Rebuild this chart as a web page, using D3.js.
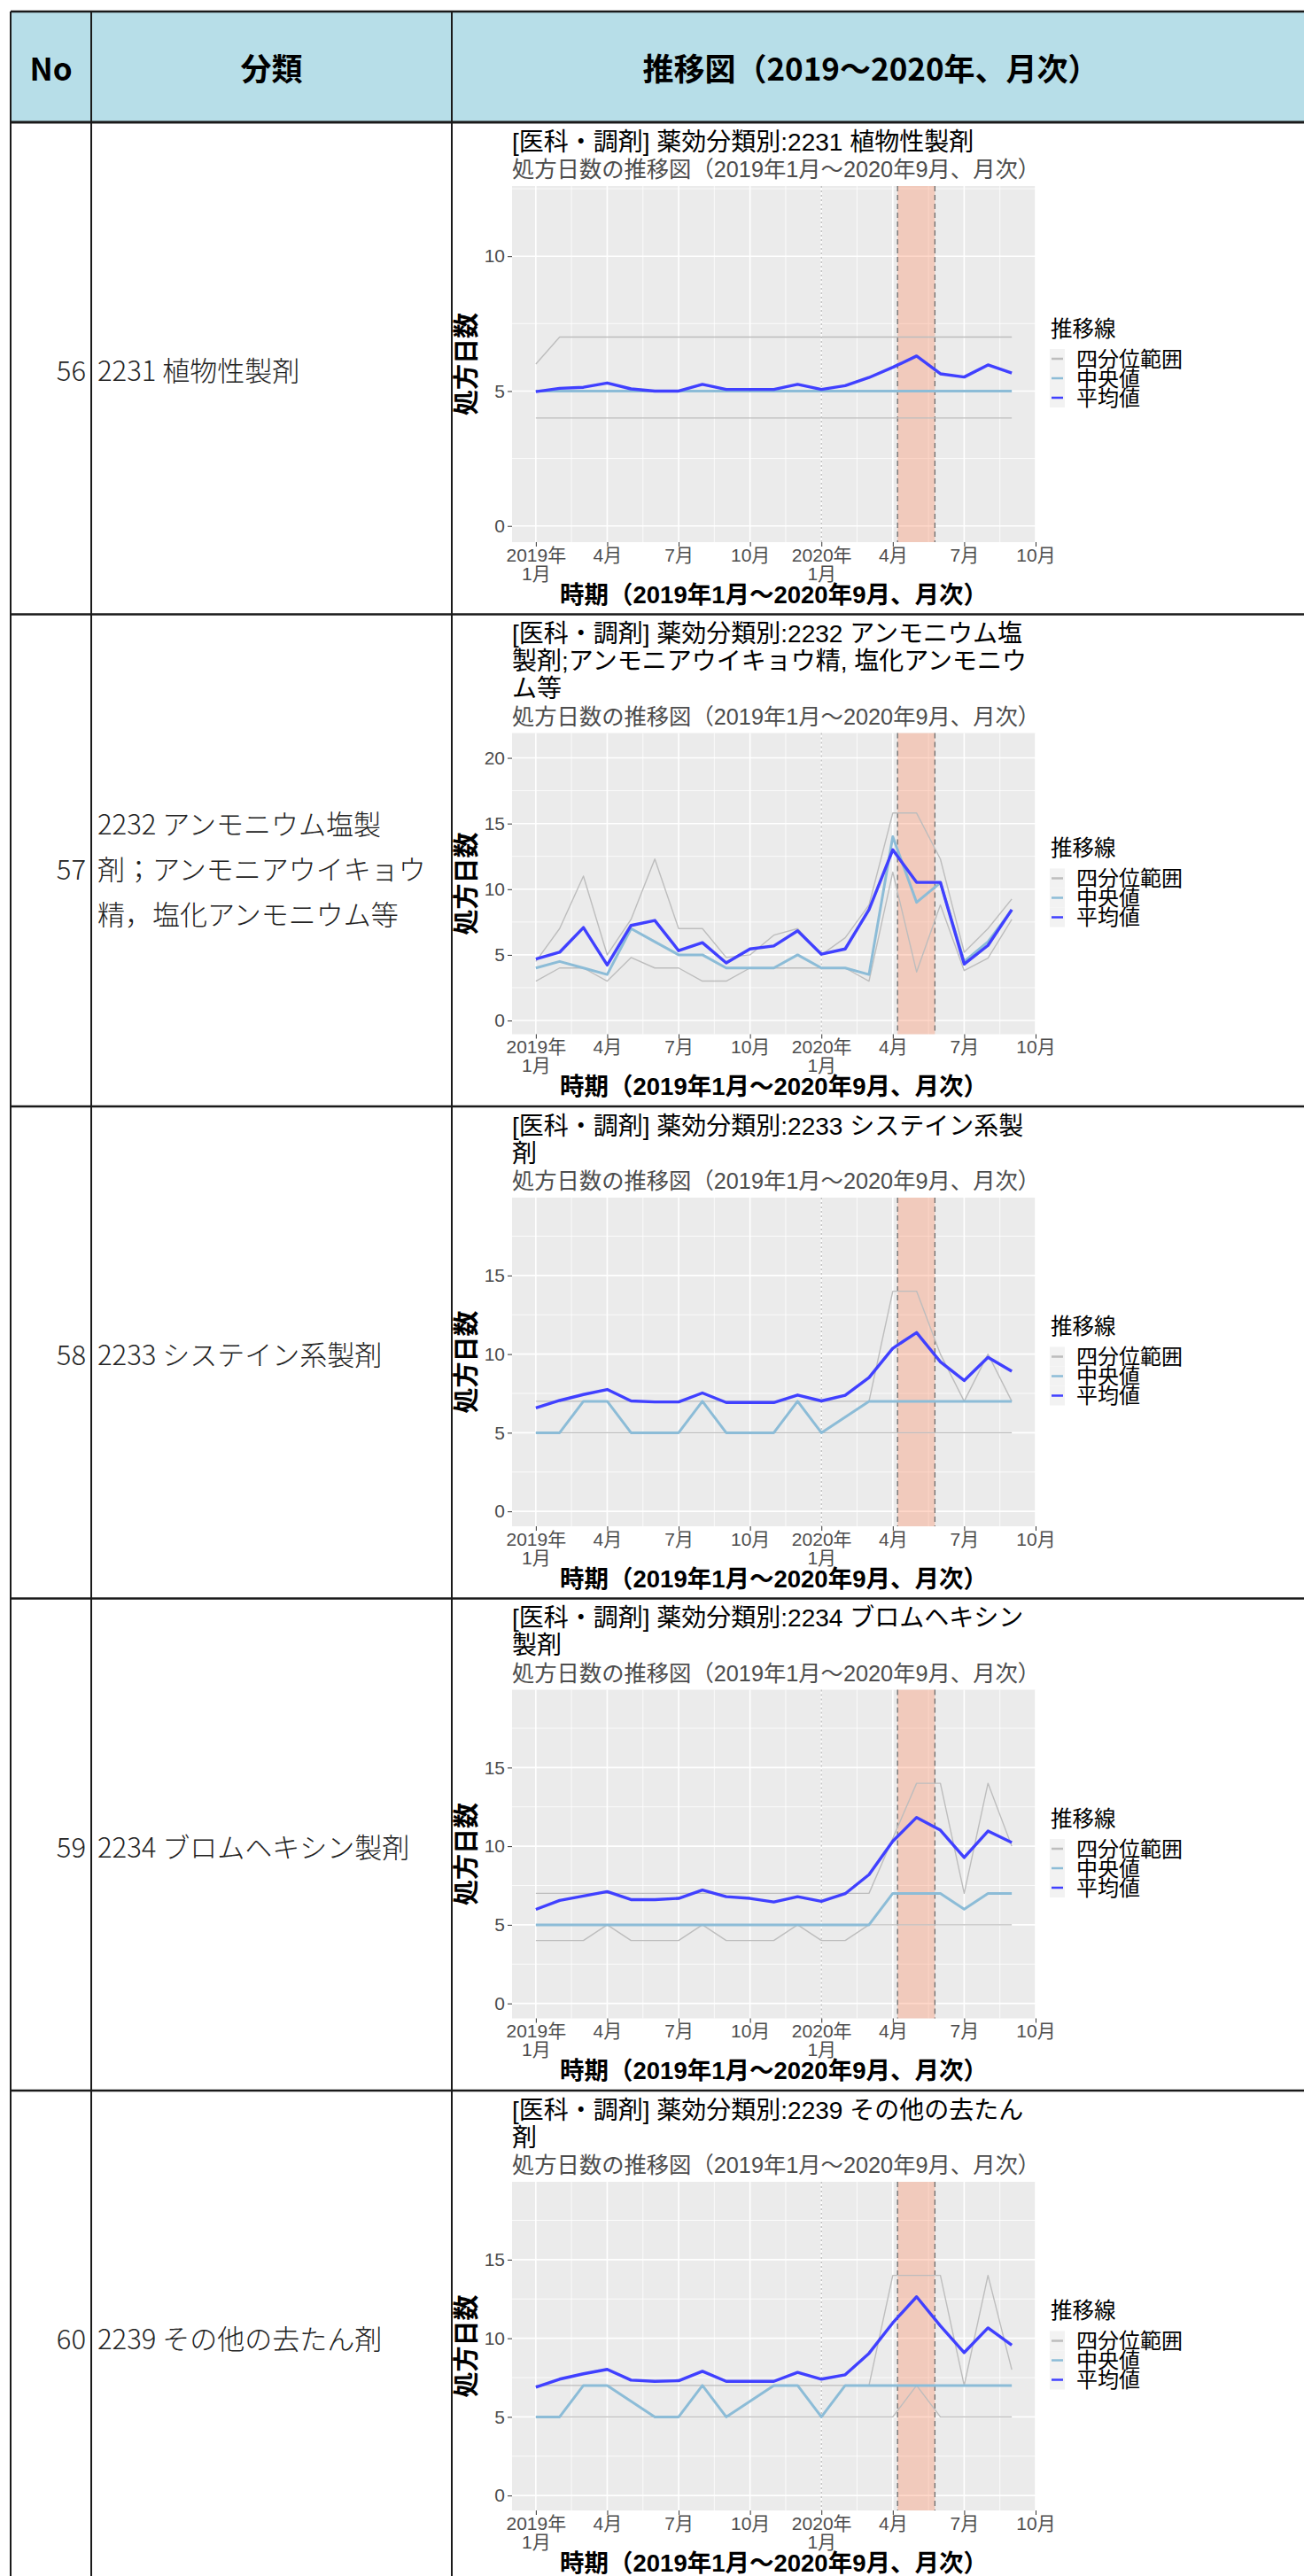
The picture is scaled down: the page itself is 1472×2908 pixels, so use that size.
<!DOCTYPE html>
<html><head><meta charset="utf-8">
<script src="https://cdn.jsdelivr.net/npm/d3@7"></script>
<style>body{margin:0;background:#fff}svg{display:block}</style>
</head><body>
<svg id="c" width="1472" height="2908"></svg>
<script>
// ---------- DATA ----------
const headerLabels = ["No", "分類", "推移図（2019～2020年、月次）"];
const rowNos = [56, 57, 58, 59, 60];
const categoryLines = [
  ["2231 植物性製剤"],
  ["2232 アンモニウム塩製", "剤；アンモニアウイキョウ", "精，塩化アンモニウム等"],
  ["2233 システイン系製剤"],
  ["2234 ブロムヘキシン製剤"],
  ["2239 その他の去たん剤"]
];
const chartTitles = [
  ["[医科・調剤] 薬効分類別:2231 植物性製剤"],
  ["[医科・調剤] 薬効分類別:2232 アンモニウム塩", "製剤;アンモニアウイキョウ精, 塩化アンモニウ", "ム等"],
  ["[医科・調剤] 薬効分類別:2233 システイン系製", "剤"],
  ["[医科・調剤] 薬効分類別:2234 ブロムヘキシン", "製剤"],
  ["[医科・調剤] 薬効分類別:2239 その他の去たん", "剤"]
];
const subtitle = "処方日数の推移図（2019年1月～2020年9月、月次）";
const xTitle = "時期（2019年1月～2020年9月、月次）";
const yTitle = "処方日数";
const legendTitle = "推移線";
const legendLabels = ["四分位範囲", "中央値", "平均値"];
// months: index 0 = 2019年1月 ... 20 = 2020年9月
const monthIndex = d3.range(21);
const xTickMonths = [0, 3, 6, 9, 12, 15, 18, 21];
const xTickLabels = [["2019年", "1月"], ["4月"], ["7月"], ["10月"], ["2020年", "1月"], ["4月"], ["7月"], ["10月"]];
const emergencyStart = 15.2;   // 2020-04-07
const emergencyEnd = 16.77;    // 2020-05-25
const yMaxes = [12, 20.85, 19, 19, 19];

const mean2231   = [4.98,5.1,5.14,5.3,5.08,5.0,5.0,5.25,5.06,5.06,5.06,5.25,5.06,5.2,5.5,5.88,6.3,5.64,5.52,5.97,5.67];
const median2231 = [5,5,5,5,5,5,5,5,5,5,5,5,5,5,5,5,5,5,5,5,5];
const q1_2231    = [4,4,4,4,4,4,4,4,4,4,4,4,4,4,4,4,4,4,4,4,4];
const q3_2231    = [6,7,7,7,7,7,7,7,7,7,7,7,7,7,7,7,7,7,7,7,7];

const mean2232   = [4.68,5.2,7.08,4.23,7.24,7.62,5.32,5.93,4.39,5.45,5.68,6.83,5.05,5.45,8.44,13.0,10.52,10.52,4.3,5.72,8.44];
const median2232 = [4.0,4.5,4.0,3.5,7.0,6.0,5.0,5.0,4.0,4.0,4.0,5.0,4.0,4.0,3.5,14.0,9.0,10.5,4.5,6.0,8.4];
const q1_2232    = [3.0,4.0,4.0,3.0,4.8,4.0,4.0,3.0,3.0,4.0,4.0,4.0,4.0,4.0,3.0,11.3,3.7,8.8,3.8,4.75,7.7];
const q3_2232    = [4.5,7.0,11.0,5.0,7.7,12.3,7.0,7.0,4.8,5.0,6.5,7.0,5.0,6.3,8.8,15.8,15.8,12.3,5.2,7.0,9.25];

const mean2233   = [6.58,7.05,7.43,7.75,7.02,6.96,6.96,7.53,6.92,6.92,6.92,7.4,7.02,7.38,8.51,10.37,11.37,9.51,8.32,9.8,8.91];
const median2233 = [5,5,7,7,5,5,5,7,5,5,5,7,5,6,7,7,7,7,7,7,7];
const q1_2233    = [5,5,5,5,5,5,5,5,5,5,5,5,5,5,5,5,5,5,5,5,5];
const q3_2233    = [7,7,7,7,7,7,7,7,7,7,7,7,7,7,7,14,14,10,7,10,7];

const mean2234   = [5.98,6.55,6.83,7.11,6.6,6.6,6.68,7.21,6.79,6.68,6.45,6.79,6.49,6.98,8.19,10.32,11.83,11.02,9.28,10.96,10.23];
const median2234 = [5,5,5,5,5,5,5,5,5,5,5,5,5,5,5,7,7,7,6,7,7];
const q1_2234    = [4,4,4,5,4,4,4,5,4,4,4,5,4,4,5,5,5,5,5,5,5];
const q3_2234    = [7,7,7,7,7,7,7,7,7,7,7,7,7,7,7,10.5,14,14,7,14,10];

const mean2239   = [6.89,7.4,7.74,8.02,7.34,7.26,7.3,7.9,7.26,7.26,7.26,7.83,7.4,7.68,9.04,10.98,12.64,10.79,9.09,10.66,9.57];
const median2239 = [5,5,7,7,6,5,5,7,5,6,7,7,5,7,7,7,7,7,7,7,7];
const q1_2239    = [5,5,5,5,5,5,5,5,5,5,5,5,5,5,5,5,7,5,5,5,5];
const q3_2239    = [7,7,7,7,7,7,7,7,7,7,7,7,7,7,7,14,14,14,7,14,8];

const chartSeries = [
  {mean: mean2231, median: median2231, q1: q1_2231, q3: q3_2231},
  {mean: mean2232, median: median2232, q1: q1_2232, q3: q3_2232},
  {mean: mean2233, median: median2233, q1: q1_2233, q3: q3_2233},
  {mean: mean2234, median: median2234, q1: q1_2234, q3: q3_2234},
  {mean: mean2239, median: median2239, q1: q1_2239, q3: q3_2239}
];

// ---------- STYLE / LAYOUT ----------
const TABLE_FONT = "'Noto Sans CJK JP','Noto Sans',sans-serif";
const CHART_FONT = "'Liberation Sans','Noto Sans CJK JP',sans-serif";
const COL_MEAN = "#4040ff", COL_MED = "#8cbcd7", COL_Q = "#bdbdbd";
const tableLeft = 12, col1 = 103, col2 = 510, tableRight = 1472;
const tableTop = 13, headerBottom = 138, rowH = 555.5;
const rowTop = i => headerBottom + i * rowH;

const svg = d3.select("#c");
svg.append("rect").attr("width", 1472).attr("height", 2908).attr("fill", "#fff");

// header
svg.append("rect").attr("x", tableLeft).attr("y", tableTop).attr("width", tableRight - tableLeft)
  .attr("height", headerBottom - tableTop).attr("fill", "#b7dee8");
const headerCenters = [(tableLeft + col1) / 2, (col1 + col2) / 2, 983];
headerLabels.forEach((t, i) => {
  svg.append("text").attr("x", headerCenters[i]).attr("y", (tableTop + headerBottom) / 2)
    .attr("text-anchor", "middle").attr("dominant-baseline", "central")
    .attr("font-family", TABLE_FONT).attr("font-weight", 700).attr("font-size", 35)
    .attr("fill", "#000").text(t);
});

// rows (left columns)
rowNos.forEach((no, i) => {
  const cy = rowTop(i) + rowH / 2 + 1;
  const lines = categoryLines[i];
  const lh = 51;
  const off = lines.length > 1 ? 7 : 0;
  svg.append("text").attr("x", 97).attr("y", cy + off).attr("text-anchor", "end")
    .attr("dominant-baseline", "central").attr("font-family", TABLE_FONT)
    .attr("font-weight", 300).attr("font-size", 31).attr("fill", "#222").text(no);
  lines.forEach((l, k) => {
    svg.append("text").attr("x", 110).attr("y", cy + off + (k - (lines.length - 1) / 2) * lh)
      .attr("dominant-baseline", "central").attr("font-family", TABLE_FONT)
      .attr("font-weight", 300).attr("font-size", 31).attr("fill", "#222").text(l);
  });
});

// table borders
const bcol = "#1a1a1a";
const hl = (y, w) => svg.append("line").attr("x1", tableLeft).attr("x2", tableRight).attr("y1", y).attr("y2", y).attr("stroke", bcol).attr("stroke-width", w);
hl(tableTop, 2.5);
hl(headerBottom, 3);
for (let i = 1; i <= 5; i++) hl(rowTop(i), 2.5);
[tableLeft, col1, col2].forEach(x => svg.append("line").attr("x1", x).attr("x2", x)
  .attr("y1", tableTop).attr("y2", 2908).attr("stroke", bcol).attr("stroke-width", 2));

// ---------- CHARTS ----------
const pLeft = 578, pRight = 1169;
chartSeries.forEach((s, i) => {
  const top = rowTop(i);
  const titles = chartTitles[i];
  const g = svg.append("g");
  const titleC = top + 22;
  titles.forEach((t, k) => {
    g.append("text").attr("x", pLeft).attr("y", titleC + k * 31).attr("dominant-baseline", "central")
      .attr("font-family", CHART_FONT).attr("font-size", 28).attr("fill", "#000").text(t);
  });
  const subC = titleC + 31 * titles.length;
  g.append("text").attr("x", pLeft).attr("y", subC).attr("dominant-baseline", "central")
    .attr("font-family", CHART_FONT).attr("font-size", 25.3).attr("fill", "#4d4d4d").text(subtitle);
  const pTop = subC + 19, pBottom = top + 474;
  const M = yMaxes[i];
  const x = d3.scaleLinear().domain([-1, 21]).range([pLeft, pRight]);
  const y = d3.scaleLinear().domain([-0.05 * M, 1.05 * M]).range([pBottom, pTop]);
  const [y0, y1] = y.domain();

  g.append("rect").attr("x", pLeft).attr("y", pTop).attr("width", pRight - pLeft)
    .attr("height", pBottom - pTop).attr("fill", "#ebebeb");
  // minor grid
  const yMinor = d3.range(2.5, y1, 5).filter(v => v > y0);
  const xMinor = d3.range(-1.5, 21, 3).filter(v => v > -1 && v < 21);
  yMinor.forEach(v => g.append("line").attr("x1", pLeft).attr("x2", pRight).attr("y1", y(v)).attr("y2", y(v))
    .attr("stroke", "#fff").attr("stroke-width", 0.8));
  xMinor.forEach(v => g.append("line").attr("x1", x(v)).attr("x2", x(v)).attr("y1", pTop).attr("y2", pBottom)
    .attr("stroke", "#fff").attr("stroke-width", 0.8));
  // major grid
  const yTicks = d3.range(0, y1, 5);
  yTicks.forEach(v => g.append("line").attr("x1", pLeft).attr("x2", pRight).attr("y1", y(v)).attr("y2", y(v))
    .attr("stroke", "#fff").attr("stroke-width", 1.6));
  xTickMonths.forEach(v => g.append("line").attr("x1", x(v)).attr("x2", x(v)).attr("y1", pTop).attr("y2", pBottom)
    .attr("stroke", "#fff").attr("stroke-width", 1.6));

  // emergency period
  g.append("rect").attr("x", x(emergencyStart)).attr("y", pTop).attr("width", x(emergencyEnd) - x(emergencyStart))
    .attr("height", pBottom - pTop).attr("fill", "#ff7f50").attr("fill-opacity", 0.3);
  [emergencyStart, emergencyEnd].forEach(v => g.append("line").attr("x1", x(v)).attr("x2", x(v))
    .attr("y1", pTop).attr("y2", pBottom).attr("stroke", "#6e6e6e").attr("stroke-width", 1.3)
    .attr("stroke-dasharray", "6,4"));
  g.append("line").attr("x1", x(12)).attr("x2", x(12)).attr("y1", pTop).attr("y2", pBottom)
    .attr("stroke", "#b5b5b5").attr("stroke-width", 1.2).attr("stroke-dasharray", "2,3");

  // series lines
  const line = d3.line().x((d, k) => x(monthIndex[k])).y(d => y(d));
  [s.q1, s.q3].forEach(arr => g.append("path").attr("d", line(arr)).attr("fill", "none")
    .attr("stroke", COL_Q).attr("stroke-width", 1.4).attr("stroke-linejoin", "round"));
  g.append("path").attr("d", line(s.median)).attr("fill", "none").attr("stroke", COL_MED)
    .attr("stroke-width", 3).attr("stroke-linejoin", "round");
  g.append("path").attr("d", line(s.mean)).attr("fill", "none").attr("stroke", COL_MEAN)
    .attr("stroke-width", 3.4).attr("stroke-linejoin", "round");

  // axes
  const yAxis = d3.axisLeft(y).tickValues(yTicks).tickSize(5).tickPadding(3).tickFormat(d3.format("d"));
  const ya = g.append("g").attr("transform", `translate(${pLeft},0)`).call(yAxis);
  ya.select(".domain").remove();
  ya.selectAll(".tick line").attr("stroke", "#333").attr("stroke-width", 1);
  ya.selectAll(".tick text").attr("font-family", CHART_FONT).attr("font-size", 21).attr("fill", "#4d4d4d");

  const xAxis = d3.axisBottom(x).tickValues(xTickMonths).tickSize(5).tickFormat("");
  const xa = g.append("g").attr("transform", `translate(0,${pBottom})`).call(xAxis);
  xa.select(".domain").remove();
  xa.selectAll(".tick line").attr("stroke", "#333").attr("stroke-width", 1);
  xa.selectAll(".tick").each(function(d, k) {
    const t = d3.select(this).append("text").attr("font-family", CHART_FONT).attr("font-size", 21)
      .attr("fill", "#4d4d4d").attr("text-anchor", "middle");
    xTickLabels[k].forEach((l, j) => t.append("tspan").attr("x", 0).attr("y", 14 + j * 21)
      .attr("dominant-baseline", "central").text(l));
  });

  // axis titles
  g.append("text").attr("x", (pLeft + pRight) / 2).attr("y", pBottom + 59).attr("text-anchor", "middle")
    .attr("dominant-baseline", "central").attr("font-family", CHART_FONT).attr("font-weight", 700)
    .attr("font-size", 27.5).attr("fill", "#000").text(xTitle);
  const pMid = (pTop + pBottom) / 2;
  g.append("text").attr("transform", `translate(527,${pMid}) rotate(-90)`).attr("text-anchor", "middle")
    .attr("dominant-baseline", "central").attr("font-family", CHART_FONT).attr("font-weight", 700)
    .attr("font-size", 29).attr("fill", "#000").text(yTitle);

  // legend
  const lg = g.append("g");
  lg.append("text").attr("x", 1186).attr("y", pMid - 40).attr("dominant-baseline", "central")
    .attr("font-family", CHART_FONT).attr("font-size", 24.5).attr("fill", "#000").text(legendTitle);
  const keyCols = [COL_Q, COL_MED, COL_MEAN];
  legendLabels.forEach((lab, k) => {
    const cy = pMid - 6 + k * 22;
    lg.append("rect").attr("x", 1185).attr("y", cy - 11).attr("width", 17).attr("height", 22).attr("fill", "#f2f2f2");
    lg.append("line").attr("x1", 1187).attr("x2", 1200).attr("y1", cy).attr("y2", cy)
      .attr("stroke", keyCols[k]).attr("stroke-width", 2.5);
    lg.append("text").attr("x", 1215).attr("y", cy).attr("dominant-baseline", "central")
      .attr("font-family", CHART_FONT).attr("font-size", 24).attr("fill", "#000").text(lab);
  });
});
</script>
</body></html>
